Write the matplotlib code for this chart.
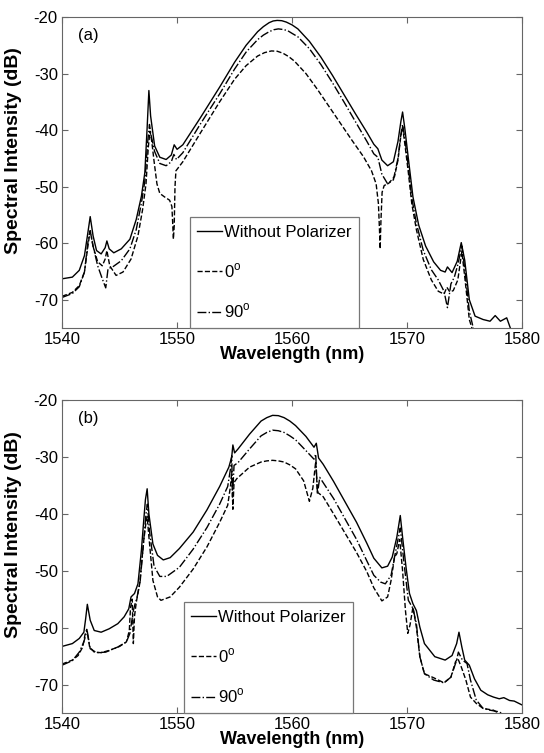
import numpy as np
import matplotlib
matplotlib.use('Agg')
import matplotlib.pyplot as plt

plt.rcParams['font.family'] = ['Liberation Sans', 'DejaVu Sans']
plt.rcParams['mathtext.fontset'] = 'custom'
plt.rcParams['mathtext.rm'] = 'Liberation Sans'
plt.rcParams['axes.unicode_minus'] = False

# ---- panel (a): wavelength (nm), intensity (dB) ----
a_solid = np.array([
    [1540.0, -66.3], [1540.9, -66.0], [1541.5, -64.8], [1541.95, -62.2], [1542.25, -58.1],
    [1542.45, -55.3], [1542.7, -58.7], [1543.0, -61.3], [1543.4, -61.9], [1543.75, -60.8],
    [1543.9, -59.6], [1544.1, -61.0], [1544.5, -61.7], [1545.15, -61.0], [1545.9, -59.3],
    [1546.45, -55.8], [1546.9, -51.7], [1547.2, -47.5], [1547.4, -39.5], [1547.55, -33.0],
    [1547.7, -37.5], [1548.05, -42.8], [1548.5, -44.8], [1549.05, -45.2], [1549.5, -44.4],
    [1549.75, -42.6], [1550.0, -43.4], [1550.5, -42.6], [1552.0, -37.9], [1553.7, -32.4],
    [1555.0, -28.0], [1556.0, -25.0], [1557.0, -22.6], [1557.5, -21.7], [1558.0, -21.0],
    [1558.35, -20.7], [1558.7, -20.6], [1559.1, -20.65], [1559.5, -20.9], [1560.0, -21.4],
    [1560.5, -22.1], [1561.5, -24.3], [1562.5, -27.1], [1563.5, -30.3],
    [1564.5, -33.7], [1565.5, -37.1], [1566.5, -40.4], [1567.1, -42.5], [1567.45, -43.3],
    [1567.8, -45.3], [1568.3, -46.3], [1568.8, -45.6], [1569.2, -42.0], [1569.45, -38.5],
    [1569.6, -36.8], [1569.8, -39.8], [1570.1, -45.0], [1570.5, -51.8], [1571.0, -56.8],
    [1571.6, -60.5], [1572.3, -63.3], [1572.9, -64.8], [1573.3, -65.1], [1573.5, -64.2],
    [1573.9, -65.2], [1574.35, -63.2], [1574.7, -59.9], [1575.0, -63.0], [1575.4, -70.0],
    [1575.9, -72.9], [1576.6, -73.5], [1577.2, -73.8], [1577.65, -72.8], [1578.1, -73.8],
    [1578.65, -73.2], [1579.0, -75.2]])

a_dash = np.array([
    [1540.0, -69.4], [1540.9, -68.7], [1541.5, -67.5], [1541.95, -65.1], [1542.25, -60.5],
    [1542.45, -57.8], [1542.7, -60.6], [1543.1, -63.3], [1543.5, -64.0], [1543.75, -62.8],
    [1543.9, -61.3], [1544.15, -64.0], [1544.7, -65.7], [1545.3, -65.1], [1546.0, -62.8],
    [1546.6, -58.7], [1547.0, -54.1], [1547.3, -49.5], [1547.5, -43.0], [1547.65, -40.2],
    [1547.8, -42.0], [1548.0, -45.5], [1548.25, -49.5], [1548.5, -51.2], [1548.9, -51.8],
    [1549.35, -52.4], [1549.55, -53.5], [1549.62, -56.5], [1549.68, -59.3], [1549.75, -57.0],
    [1549.82, -50.0], [1549.9, -47.2], [1550.5, -45.6], [1552.0, -40.6], [1553.7, -35.0],
    [1555.0, -31.0], [1556.0, -28.6], [1557.0, -26.9], [1557.6, -26.3], [1558.2, -26.0],
    [1558.7, -26.05], [1559.2, -26.4], [1559.7, -27.0], [1560.2, -27.8], [1561.2, -30.0],
    [1562.2, -32.8], [1563.2, -35.8], [1564.2, -38.8],
    [1565.2, -41.8], [1566.2, -44.7], [1566.9, -47.2], [1567.3, -49.5], [1567.5, -53.0],
    [1567.6, -58.0], [1567.65, -61.0], [1567.72, -56.0], [1567.82, -51.0], [1568.0, -49.8],
    [1568.4, -49.4], [1568.9, -48.2], [1569.2, -45.3], [1569.45, -41.0], [1569.6, -39.5],
    [1569.8, -42.5], [1570.1, -47.5], [1570.4, -53.0], [1570.8, -57.6], [1571.4, -62.9],
    [1572.1, -66.5], [1572.7, -68.5], [1573.2, -69.0], [1573.45, -67.8], [1573.7, -68.6],
    [1574.0, -68.4], [1574.4, -66.5], [1574.75, -61.5], [1575.0, -65.9], [1575.4, -73.5],
    [1575.7, -75.5]])

a_dashdot = np.array([
    [1540.0, -69.6], [1540.9, -68.9], [1541.5, -67.7], [1541.95, -65.1], [1542.3, -59.0],
    [1542.45, -57.8], [1542.7, -60.5], [1543.1, -64.0], [1543.5, -66.3], [1543.8, -67.9],
    [1544.0, -64.5], [1544.4, -64.2], [1545.15, -63.1], [1545.9, -61.0], [1546.45, -57.6],
    [1546.9, -52.9], [1547.2, -49.0], [1547.45, -42.0], [1547.6, -39.0], [1547.75, -41.0],
    [1548.05, -43.8], [1548.5, -45.9], [1549.05, -46.3], [1549.5, -45.6], [1549.72, -44.3],
    [1549.95, -45.2], [1550.5, -44.0], [1552.0, -39.0], [1553.7, -33.6], [1555.0, -29.2],
    [1556.0, -26.2], [1557.0, -24.0], [1557.5, -23.2], [1558.0, -22.6], [1558.4, -22.25],
    [1558.8, -22.1], [1559.2, -22.2], [1559.6, -22.4], [1560.0, -22.9],
    [1560.5, -23.5], [1561.5, -25.6], [1562.5, -28.4], [1563.5, -31.6], [1564.5, -35.0],
    [1565.5, -38.5], [1566.5, -42.0], [1567.1, -44.2], [1567.45, -44.8], [1567.8, -47.8],
    [1568.3, -49.5], [1568.8, -48.8], [1569.2, -45.0], [1569.45, -40.8], [1569.6, -39.0],
    [1569.8, -41.5], [1570.1, -46.5], [1570.4, -52.0], [1570.8, -56.5], [1571.4, -61.3],
    [1572.1, -64.7], [1572.7, -66.5], [1573.2, -68.5], [1573.5, -71.4], [1573.8, -67.2],
    [1574.1, -66.0], [1574.4, -63.8], [1574.75, -60.5], [1575.0, -64.5], [1575.4, -72.0],
    [1575.8, -75.5]])

# ---- panel (b) ----
b_solid = np.array([
    [1540.0, -63.3], [1540.9, -62.8], [1541.5, -61.9], [1541.9, -60.8], [1542.05, -58.5],
    [1542.2, -55.9], [1542.45, -58.7], [1542.8, -60.5], [1543.4, -60.8], [1544.1, -60.2],
    [1544.85, -59.3], [1545.4, -58.1], [1545.8, -56.7], [1546.0, -54.6], [1546.3, -54.0],
    [1546.6, -52.3], [1546.9, -46.4], [1547.1, -41.2], [1547.25, -37.5], [1547.4, -35.6],
    [1547.55, -40.0], [1547.9, -45.3], [1548.3, -47.3], [1548.8, -48.1], [1549.4, -47.7],
    [1550.2, -46.1], [1551.4, -43.2], [1552.6, -39.3], [1553.7, -35.2], [1554.5, -31.8],
    [1554.75, -30.0], [1554.85, -27.9], [1555.0, -29.3], [1555.3, -28.6], [1556.3, -26.0],
    [1557.3, -23.7], [1557.8, -23.1], [1558.3, -22.7], [1558.8, -22.75], [1559.3, -23.1],
    [1559.8, -23.7], [1560.3, -24.5], [1561.2, -26.4],
    [1561.9, -28.3], [1562.1, -27.6], [1562.3, -30.2], [1562.7, -31.3], [1563.6, -34.3],
    [1564.6, -37.9], [1565.6, -41.5], [1566.5, -45.2], [1567.1, -47.8], [1567.8, -49.5],
    [1568.3, -49.2], [1568.7, -47.6], [1569.1, -44.1], [1569.4, -40.3], [1569.6, -44.1],
    [1569.9, -49.4], [1570.2, -54.0], [1570.5, -55.8], [1570.8, -57.0], [1571.1, -59.9],
    [1571.5, -62.8], [1572.4, -65.1], [1573.3, -65.7], [1573.9, -64.9], [1574.3, -62.8],
    [1574.5, -60.8], [1574.75, -63.4], [1575.0, -65.7], [1575.4, -66.6], [1575.85, -69.0],
    [1576.4, -71.0], [1577.0, -71.8], [1577.5, -72.2], [1578.0, -72.5], [1578.4, -72.3],
    [1578.9, -72.8], [1579.3, -72.9], [1580.0, -73.6]])

b_dash = np.array([
    [1540.0, -66.4], [1540.9, -65.7], [1541.4, -64.9], [1541.8, -63.4], [1542.0, -61.2],
    [1542.15, -60.3], [1542.4, -63.4], [1542.8, -64.3], [1543.4, -64.4], [1544.1, -64.0],
    [1545.0, -63.3], [1545.6, -62.5], [1545.85, -60.5], [1545.95, -56.5], [1546.1, -55.0],
    [1546.2, -62.8], [1546.3, -58.0], [1546.45, -55.6], [1546.75, -52.3], [1547.1, -44.7],
    [1547.3, -41.5], [1547.4, -40.5], [1547.55, -44.0], [1547.9, -51.7], [1548.3, -54.6],
    [1548.6, -55.2], [1549.4, -54.6], [1550.2, -52.9], [1551.4, -49.7], [1552.6, -45.8],
    [1553.7, -41.5], [1554.4, -38.5], [1554.65, -35.0], [1554.75, -32.5], [1554.85, -39.2],
    [1554.95, -34.5], [1555.2, -33.8], [1556.3, -31.8], [1557.3, -30.9], [1557.8, -30.7],
    [1558.3, -30.6], [1558.8, -30.7], [1559.3, -30.9], [1559.8, -31.4],
    [1560.3, -32.1], [1561.0, -34.2], [1561.5, -37.8], [1561.8, -35.5],
    [1562.05, -30.8], [1562.2, -36.2], [1562.7, -37.0], [1563.6, -40.0], [1564.6, -43.4],
    [1565.6, -46.8], [1566.5, -50.2], [1567.1, -53.0], [1567.8, -55.3], [1568.3, -54.6],
    [1568.6, -51.7], [1568.9, -47.6], [1569.1, -47.0], [1569.35, -44.5], [1569.6, -50.0],
    [1569.85, -57.0], [1570.05, -61.0], [1570.25, -59.5], [1570.5, -56.4], [1570.8, -59.9],
    [1571.1, -65.1], [1571.5, -68.1], [1572.3, -68.8], [1573.2, -69.7], [1573.8, -68.7],
    [1574.2, -66.0], [1574.4, -65.4], [1574.7, -66.9], [1575.1, -69.2], [1575.5, -72.2],
    [1576.0, -73.3], [1576.6, -74.2], [1577.5, -74.5], [1578.3, -75.5]])

b_dashdot = np.array([
    [1540.0, -66.6], [1540.9, -65.8], [1541.5, -64.3], [1541.9, -62.5], [1542.1, -61.0],
    [1542.2, -60.7], [1542.45, -63.7], [1543.0, -64.4], [1543.8, -64.3], [1544.85, -63.4],
    [1545.6, -62.5], [1545.9, -61.0], [1546.2, -57.0], [1546.35, -55.8], [1546.5, -54.9],
    [1546.8, -51.7], [1547.1, -44.7], [1547.3, -40.0], [1547.42, -38.3], [1547.6, -43.0],
    [1548.0, -49.2], [1548.5, -51.0], [1549.1, -51.0], [1550.2, -49.4], [1551.4, -46.2],
    [1552.6, -42.4], [1553.7, -38.3], [1554.4, -35.2], [1554.65, -32.0], [1554.75, -29.8],
    [1554.82, -37.0], [1554.95, -31.5], [1555.3, -31.0], [1556.3, -28.6], [1557.3, -26.3],
    [1557.8, -25.7], [1558.3, -25.3], [1558.8, -25.4], [1559.3, -25.7], [1559.8, -26.3],
    [1560.3, -27.0], [1561.2, -28.9], [1561.9, -30.4],
    [1562.05, -29.5], [1562.2, -36.5], [1562.4, -33.6], [1563.6, -37.3], [1564.6, -40.9],
    [1565.6, -44.5], [1566.5, -48.3], [1567.1, -50.8], [1567.7, -52.0], [1568.1, -52.3],
    [1568.6, -50.8], [1568.9, -47.6], [1569.15, -45.0], [1569.4, -42.5], [1569.7, -48.2],
    [1570.1, -55.2], [1570.5, -56.6], [1570.8, -59.3], [1571.1, -65.1], [1571.5, -68.1],
    [1572.3, -69.2], [1573.2, -69.7], [1573.8, -68.7], [1574.3, -65.7], [1574.45, -64.3],
    [1574.8, -65.7], [1575.2, -66.3], [1575.5, -69.2], [1576.0, -72.7], [1576.6, -74.2],
    [1577.2, -74.5], [1578.0, -74.8], [1578.6, -75.5]])

labels = ['Without Polarizer', '0$^{\\mathrm{o}}$', '90$^{\\mathrm{o}}$']
styles = ['-', '--', '-.']
panel_tags = ['(a)', '(b)']
x_ticks = [1540, 1550, 1560, 1570, 1580]
y_ticks = [-70, -60, -50, -40, -30, -20]

fig = plt.figure(figsize=(5.44, 7.53), dpi=100)
ax_a = fig.add_axes([0.114, 0.5644, 0.846, 0.413])
ax_b = fig.add_axes([0.114, 0.0531, 0.846, 0.4157])

panels = [(ax_a, [a_solid, a_dash, a_dashdot], 0.278),
          (ax_b, [b_solid, b_dash, b_dashdot], 0.265)]

for i, (ax, curves, leg_x) in enumerate(panels):
    for data, ls, lab in zip(curves, styles, labels):
        ax.plot(data[:, 0], data[:, 1], ls, color='black', lw=1.0, label=lab)
    ax.set_xlim(1540, 1580)
    ax.set_ylim(-75, -20)
    ax.set_xticks(x_ticks)
    ax.set_yticks(y_ticks)
    ax.tick_params(direction='in', top=True, right=True, length=4,
                   color='#666666', labelsize=12, pad=3)
    for sp in ax.spines.values():
        sp.set_color('#666666')
        sp.set_linewidth(0.8)
    ax.set_xlabel('Wavelength (nm)', fontsize=13, fontweight='bold', labelpad=-1)
    ax.set_ylabel('Spectral Intensity (dB)', fontsize=14, fontweight='bold')
    ax.yaxis.set_label_coords(-0.088, 0.57)
    ax.text(0.035, 0.965, panel_tags[i], transform=ax.transAxes,
            fontsize=12, va='top', ha='left')
    leg = ax.legend(loc='lower left', bbox_to_anchor=(leg_x, 0.0), borderaxespad=0,
                    fontsize=12, handlelength=1.5, handletextpad=0.1,
                    labelspacing=1.3, borderpad=0.45, fancybox=False,
                    framealpha=1, edgecolor='#777777')
    leg.get_frame().set_linewidth(0.9)

fig.savefig('out.png', dpi=100)
